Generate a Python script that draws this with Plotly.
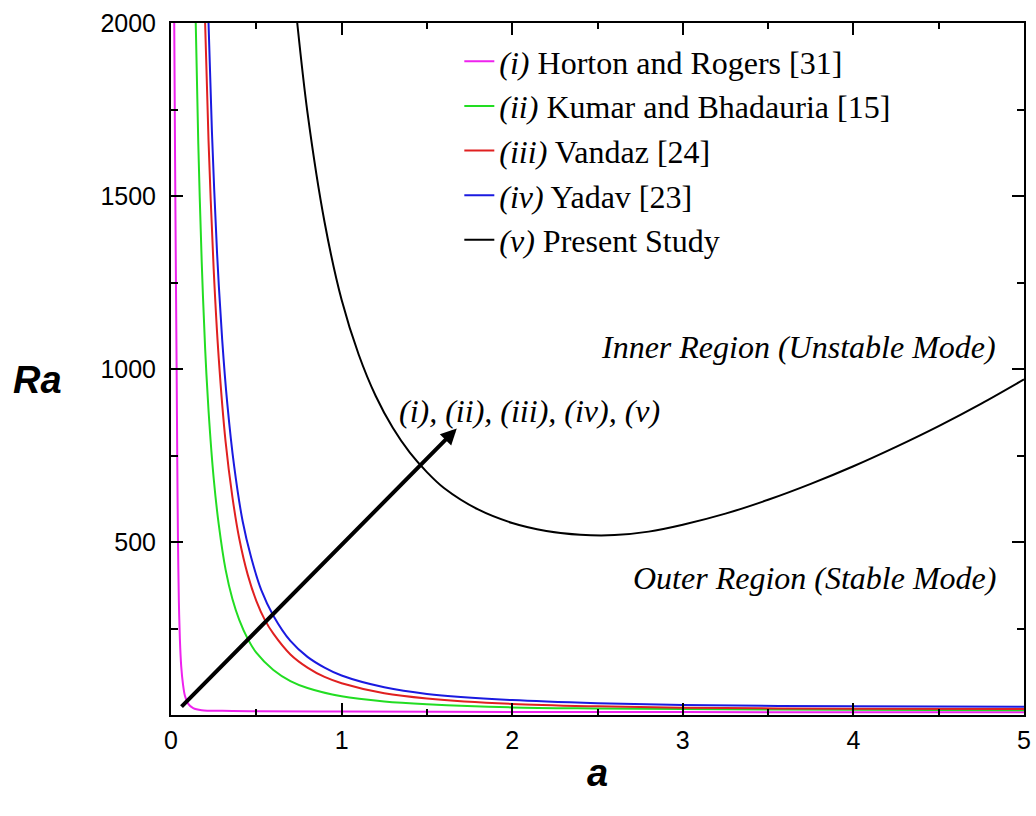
import plotly.graph_objects as go

# ---- data ----
a_i = [0.019, 0.024, 0.029, 0.033, 0.037, 0.041, 0.046, 0.052, 0.060, 0.070, 0.082, 0.10, 0.13, 0.18, 0.3, 0.5, 1.0, 2.0, 3.0, 4.0, 5.0]
ra_i = [2000, 1600, 1250, 1000, 720, 500, 330, 220, 140, 90, 55, 33, 20, 14, 12, 11, 10, 9, 8.5, 8, 8]

a_ii = [0.145, 0.16, 0.18, 0.2, 0.22, 0.25, 0.28, 0.32, 0.36, 0.4, 0.45, 0.5, 0.6, 0.7, 0.8, 1.0, 1.25, 1.5, 2.0, 2.5, 3.0, 4.0, 5.0]
ra_ii = [2000, 1650, 1310, 1060, 880, 685, 550, 420, 335, 275, 220, 180, 130, 98, 78, 54, 39, 31, 22, 19, 17, 15, 14]

a_iii = [0.2, 0.22, 0.25, 0.28, 0.32, 0.36, 0.4, 0.45, 0.5, 0.55, 0.6, 0.7, 0.8, 0.9, 1.0, 1.25, 1.5, 2.0, 2.5, 3.0, 4.0, 5.0]
ra_iii = [2000, 1660, 1290, 1030, 790, 630, 510, 405, 330, 275, 235, 175, 137, 110, 92, 63, 48, 32, 25, 21, 18, 17]

a_iv = [0.22, 0.24, 0.27, 0.3, 0.33, 0.37, 0.42, 0.47, 0.53, 0.6, 0.7, 0.8, 0.9, 1.0, 1.25, 1.5, 2.0, 2.5, 3.0, 4.0, 5.0]
ra_iv = [2000, 1685, 1335, 1085, 900, 720, 560, 455, 360, 287, 214, 168, 137, 114, 80, 61, 43, 34, 29, 25, 24]

a_v = [0.74, 0.8, 0.9, 1.0, 1.1, 1.2, 1.3, 1.4, 1.5, 1.6, 1.8, 2.0, 2.2, 2.4, 2.6, 2.8, 3.0, 3.25, 3.5, 3.75, 4.0, 4.25, 4.5, 4.75, 5.0]
ra_v = [2000, 1741, 1425, 1200, 1042, 922, 830, 758, 702, 656, 594, 555, 532, 521, 520, 530, 550, 582, 622, 668, 719, 775, 835, 900, 970]

names = ["<i>(i)</i> Horton and Rogers [31]",
         "<i>(ii)</i> Kumar and Bhadauria [15]",
         "<i>(iii)</i> Vandaz [24]",
         "<i>(iv)</i> Yadav [23]",
         "<i>(v)</i> Present Study"]
colors = ["#EE22EE", "#22DD22", "#E02020", "#1A1AE0", "#000000"]
xs = [a_i, a_ii, a_iii, a_iv, a_v]
ys = [ra_i, ra_ii, ra_iii, ra_iv, ra_v]

y_ticks = [500, 1000, 1500, 2000]

fig = go.Figure()
for k in range(5):
    fig.add_trace(go.Scatter(
        x=xs[k], y=ys[k], mode="lines", name=names[k],
        legendgroup=str(k),
        line=dict(color=colors[k], width=2, shape="spline", smoothing=0.9),
        cliponaxis=True,
    ))

serif = "Liberation Serif, Times New Roman, serif"
sans = "Liberation Sans, Arial, sans-serif"

fig.update_layout(
    width=1036, height=816,
    margin=dict(l=171, r=12, t=23, b=101, autoexpand=False),
    paper_bgcolor="white", plot_bgcolor="white",
    showlegend=True,
    legend=dict(
        x=0.338, y=0.984, xanchor="left", yanchor="top",
        font=dict(family=serif, size=32, color="black"),
        bgcolor="rgba(0,0,0,0)", tracegroupgap=0,
    ),
    xaxis=dict(
        range=[0, 5], dtick=1, tick0=0, automargin=False,
        showgrid=False, zeroline=False,
        showline=True, linecolor="black", linewidth=2, mirror="ticks",
        ticks="inside", ticklen=12, tickwidth=2, tickcolor="black",
        minor=dict(dtick=0.5, tick0=0, ticks="inside", ticklen=6, tickwidth=2, tickcolor="black"),
        tickfont=dict(family=sans, size=25, color="black"),
        ticklabelstandoff=2,
        title=dict(text="<b><i>a</i></b>", font=dict(family=sans, size=38, color="black"), standoff=6),
    ),
    yaxis=dict(
        range=[0, 2000], tickmode="array", tickvals=y_ticks, automargin=False,
        showgrid=False, zeroline=False,
        showline=True, linecolor="black", linewidth=2, mirror="ticks",
        ticks="inside", ticklen=12, tickwidth=2, tickcolor="black",
        minor=dict(dtick=250, tick0=0, ticks="inside", ticklen=7, tickwidth=2, tickcolor="black"),
        tickfont=dict(family=sans, size=25, color="black"),
        ticklabelstandoff=8,
    ),
)

fig.add_annotation(text="<b><i>Ra</i></b>", xref="paper", yref="paper",
                   x=-0.157, y=0.484, xanchor="center", yanchor="middle",
                   showarrow=False,
                   font=dict(family=sans, size=38, color="black"))

fig.add_annotation(text="<i>Inner Region (Unstable Mode)</i>", x=4.85, y=1063,
                   xanchor="right", yanchor="middle", showarrow=False,
                   font=dict(family=serif, size=32, color="black"))
fig.add_annotation(text="<i>Outer Region (Stable Mode)</i>", x=4.85, y=396,
                   xanchor="right", yanchor="middle", showarrow=False,
                   font=dict(family=serif, size=32, color="black"))
fig.add_annotation(text="<i>(i), (ii), (iii), (iv), (v)</i>", x=2.10, y=880,
                   xanchor="center", yanchor="middle", showarrow=False,
                   font=dict(family=serif, size=32, color="black"))

fig.add_annotation(text="", x=1.675, y=828, ax=0.053, ay=20,
                   xref="x", yref="y", axref="x", ayref="y",
                   showarrow=True, arrowhead=2, arrowsize=0.8, arrowwidth=4,
                   arrowcolor="black")

fig.write_html("out.html")
